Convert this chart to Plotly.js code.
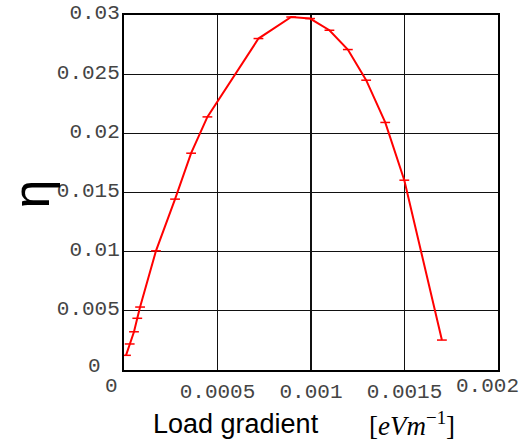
<!DOCTYPE html>
<html>
<head>
<meta charset="utf-8">
<script src="https://cdn.plot.ly/plotly-3.0.1.min.js"></script>
<style>html,body{margin:0;padding:0;background:#fff;}#chart{width:526px;height:448px;}</style>
</head>
<body>
<div id="chart"></div>
<script>
const loadGradient = [1.07e-5, 3.05e-5, 5.35e-5, 7.1e-5, 8.6e-5, 1.71e-4, 2.73e-4, 3.59e-4, 4.46e-4, 7.19e-4, 8.94e-4, 9.95e-4, 1.0985e-3, 1.197e-3, 1.295e-3, 1.397e-3, 1.499e-3, 1.700e-3];
const eta = [0.00124, 0.0022, 0.00323, 0.00437, 0.00532, 0.01007, 0.01444, 0.01832, 0.02139, 0.02801, 0.02983, 0.0297, 0.02871, 0.02708, 0.02449, 0.02092, 0.01604, 0.00253];
const xTickVals = [0.0005, 0.001, 0.0015];
const xTickText = ['0.0005', '0.001', '0.0015'];
const yTickVals = [0.005, 0.01, 0.015, 0.02, 0.025, 0.03];
const yTickText = ['0.005', '0.01', '0.015', '0.02', '0.025', '0.03'];

const tickFont = {family: 'Liberation Mono, Courier New, monospace', size: 21, color: '#444'};

const trace = {
  x: loadGradient, y: eta, type: 'scatter', mode: 'lines+markers',
  line: {color: '#ff0000', width: 2},
  marker: {symbol: 'line-ew', size: 7, line: {color: '#ff0000', width: 1.5}, color: '#ff0000'},
  hoverinfo: 'skip'
};

const layout = {
  width: 526, height: 448,
  margin: {l: 124, r: 28, t: 15, b: 78},
  paper_bgcolor: '#fff', plot_bgcolor: '#fff',
  showlegend: false,
  xaxis: {
    range: [0, 0.002], tickmode: 'array', tickvals: xTickVals, ticktext: xTickText,
    showgrid: true, gridcolor: '#111', gridwidth: 1.3,
    showline: true, linecolor: '#000', linewidth: 2, mirror: true,
    zeroline: false, ticks: '', tickfont: tickFont, ticklabelstandoff: 1
  },
  yaxis: {
    range: [0, 0.03], tickmode: 'array', tickvals: yTickVals, ticktext: yTickText,
    showgrid: true, gridcolor: '#111', gridwidth: 1.3,
    showline: true, linecolor: '#000', linewidth: 2, mirror: true,
    zeroline: false, ticks: '', tickfont: tickFont, ticklabelstandoff: -2, ticklabelshift: -3
  },
  annotations: [
    {text: '0', xref: 'paper', yref: 'paper', x: 0, y: 0, xanchor: 'right', yanchor: 'middle', xshift: -21, yshift: 4, showarrow: false, font: tickFont},
    {text: '0', xref: 'paper', yref: 'paper', x: 0, y: 0, xanchor: 'center', yanchor: 'top', xshift: -13, yshift: -3, showarrow: false, font: tickFont},
    {text: '0.002', xref: 'paper', yref: 'paper', x: 1, y: 0, xanchor: 'right', yanchor: 'top', xshift: 23, yshift: -3, showarrow: false, font: tickFont},
    {text: 'η', xref: 'paper', yref: 'paper', x: 0, y: 0.5, xanchor: 'center', yanchor: 'middle', xshift: -94, yshift: -2, textangle: -90, showarrow: false, font: {family: 'Liberation Sans, Arial, sans-serif', size: 52, color: '#000'}},
    {text: 'Load gradient', xref: 'paper', yref: 'paper', x: 0, y: 0, xanchor: 'left', yanchor: 'middle', xshift: 27, yshift: -54, showarrow: false, font: {family: 'Liberation Sans, Arial, sans-serif', size: 27, color: '#000'}},
    {text: '[<i>eVm</i><sup>−1</sup>]', xref: 'paper', yref: 'paper', x: 0, y: 0, xanchor: 'left', yanchor: 'middle', xshift: 243, yshift: -54, showarrow: false, font: {family: 'Liberation Serif, Times New Roman, serif', size: 27, color: '#000'}}
  ]
};

Plotly.newPlot('chart', [trace], layout, {displayModeBar: false, staticPlot: true});
</script>
</body>
</html>
